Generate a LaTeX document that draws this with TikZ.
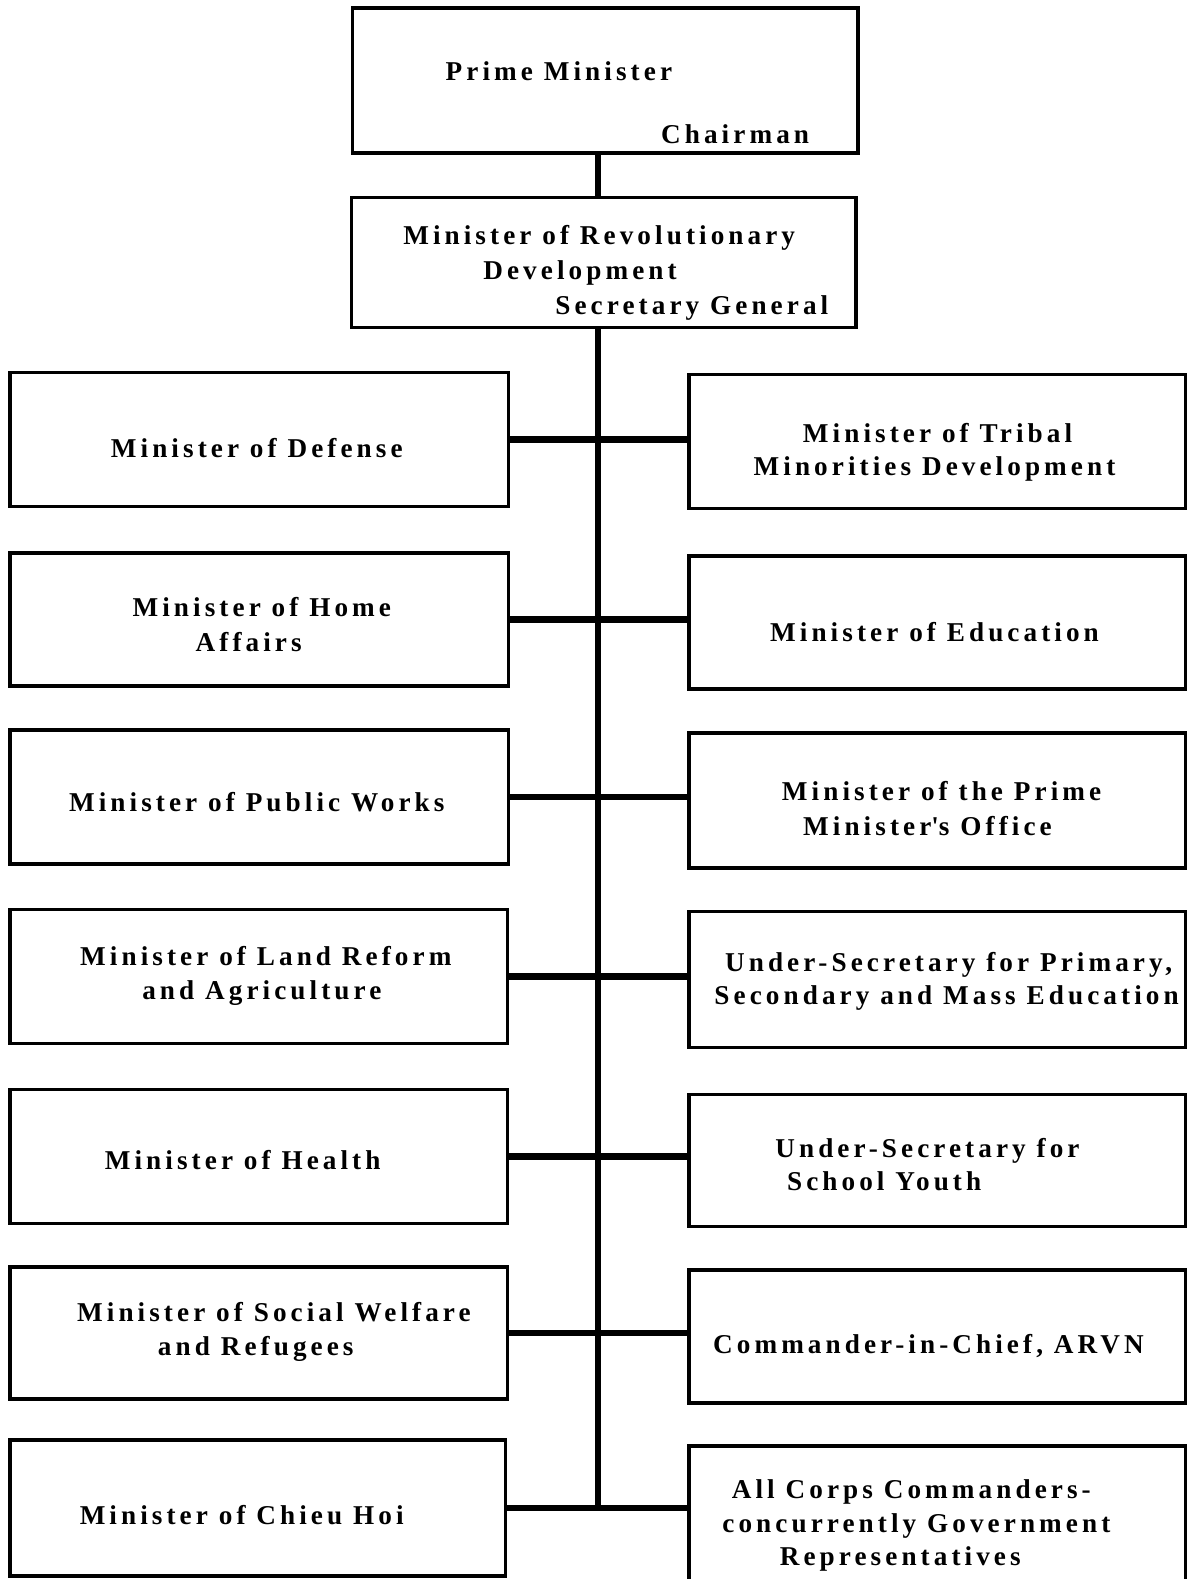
\documentclass[tikz,border=0pt]{standalone}
\usepackage{fontspec}
\setmainfont{Liberation Serif}[LetterSpace=15]
\begin{document}
\begin{tikzpicture}[x=1pt,y=-1pt,
  box/.style={draw=black,line width=3.5pt,inner sep=0pt,fill=none},
  lbl/.style={inner sep=0pt,yshift=-7pt,font=\fontsize{27}{31}\selectfont\bfseries,text height=0.7em,text depth=0.2em},
  conn/.style={line width=6.5pt,draw=black}]
\useasboundingbox (0,0) rectangle (1180,1568);
% top boxes
\node[box,minimum width=502pt,minimum height=144pt] (PM) at (601,80) {};
\node[box,minimum width=501pt,minimum height=129pt] (RD) at (599.5,260.5) {};
% left boxes
\node[box,minimum width=495pt,minimum height=133pt] (L1) at (257.5,436.5) {};
\node[box,minimum width=495pt,minimum height=132pt] (L2) at (257.5,615) {};
\node[box,minimum width=495pt,minimum height=133pt] (L3) at (257.5,791.5) {};
\node[box,minimum width=494pt,minimum height=133pt] (L4) at (257,969.5) {};
\node[box,minimum width=494pt,minimum height=133pt] (L5) at (257,1148.5) {};
\node[box,minimum width=494pt,minimum height=131pt] (L6) at (257,1323.5) {};
\node[box,minimum width=492pt,minimum height=135pt] (L7) at (256,1497.5) {};
% right boxes
\node[box,minimum width=493pt,minimum height=133pt] (R1) at (930.5,438.5) {};
\node[box,minimum width=493pt,minimum height=132pt] (R2) at (930.5,618) {};
\node[box,minimum width=493pt,minimum height=134pt] (R3) at (930.5,795) {};
\node[box,minimum width=493pt,minimum height=135pt] (R4) at (930.5,972.5) {};
\node[box,minimum width=493pt,minimum height=131pt] (R5) at (930.5,1152.5) {};
\node[box,minimum width=493pt,minimum height=132pt] (R6) at (930.5,1327) {};
\node[box,minimum width=493pt,minimum height=134pt] (R7) at (930.5,1503) {};
% spine
\coordinate (sp) at (594,1500);
\draw[conn] (PM.south -| sp) -- (RD.north -| sp);
\draw[conn] (RD.south -| sp) -- (sp);
\draw[conn] (L1.east) -- (R1.west |- L1.east);
\draw[conn] (L2.east) -- (R2.west |- L2.east);
\draw[conn] (L3.east) -- (R3.west |- L3.east);
\draw[conn] (L4.east) -- (R4.west |- L4.east);
\draw[conn] (L5.east) -- (R5.west |- L5.east);
\draw[conn] (L6.east) -- (R6.west |- L6.east);
\draw[conn] (L7.east) -- (R7.west |- L7.east);
% texts
\node[lbl] (tPM1) at (555,70) {Prime Minister};
\node[lbl] (tPM2) at (730,133) {Chairman};
\node[lbl] (tRD1) at (595,233) {Minister of Revolutionary};
\node[lbl] (tRD2) at (576,268) {Development};
\node[lbl] (tRD3) at (687,303) {Secretary General};
\node[lbl] (tL1) at (255,445) {Minister of Defense};
\node[lbl] (tL2a) at (260,603) {Minister of Home};
\node[lbl] (tL2b) at (247,637) {Affairs};
\node[lbl] (tL3) at (255,796) {Minister of Public Works};
\node[lbl] (tL4a) at (264,949) {Minister of Land Reform};
\node[lbl] (tL4b) at (260,983) {and Agriculture};
\node[lbl] (tL5) at (241,1152) {Minister of Health};
\node[lbl] (tL6a) at (272,1303) {Minister of Social Welfare};
\node[lbl] (tL6b) at (254,1337) {and Refugees};
\node[lbl] (tL7) at (240,1504) {Minister of Chieu Hoi};
\node[lbl] (tR1a) at (931,430) {Minister of Tribal};
\node[lbl] (tR1b) at (928,463) {Minorities Development};
\node[lbl] (tR2) at (928,628) {Minister of Education};
\node[lbl] (tR3a) at (935,785) {Minister of the Prime};
\node[lbl] (tR3b) at (921,820) {Minister\textquotesingle s Office};
\node[lbl] (tR4a) at (942,955) {Under-Secretary for Primary,};
\node[lbl] (tR4b) at (940,988) {Secondary and Mass Education};
\node[lbl] (tR5a) at (921,1140) {Under-Secretary for};
\node[lbl] (tR5b) at (878,1173) {School Youth};
\node[lbl] (tR6) at (922,1335) {Commander-in-Chief, ARVN};
\node[lbl] (tR7a) at (905,1479) {All Corps Commanders-};
\node[lbl] (tR7b) at (910,1512) {concurrently Government};
\node[lbl] (tR7c) at (894,1545) {Representatives};
\end{tikzpicture}
\end{document}
